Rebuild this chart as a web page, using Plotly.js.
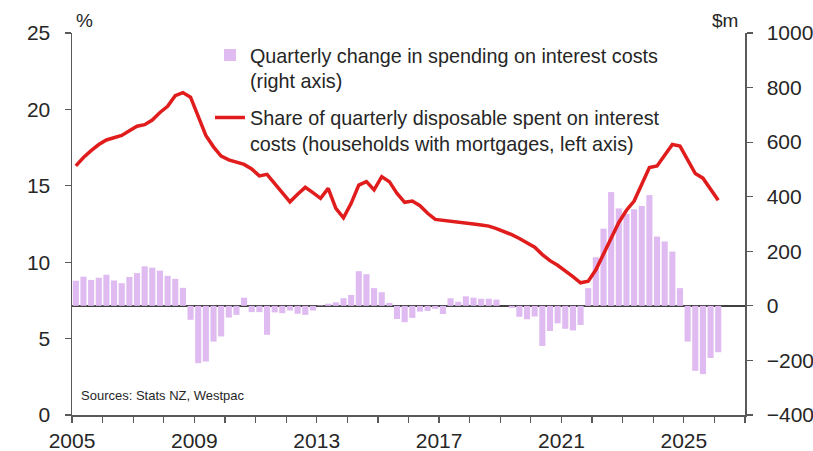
<!DOCTYPE html>
<html>
<head>
<meta charset="utf-8">
<script src="https://cdn.plot.ly/plotly-3.0.1.min.js"></script>
<style>
html,body{margin:0;padding:0;background:#fff;}
#chart{width:813px;height:451px;}
</style>
</head>
<body>
<div id="chart"></div>
<script>
// Quarterly categories: 2005Q1 .. 2026Q1
const firstYear = 2005;
const nQuarters = 85;
const quarterLabels = [];
for (let i = 0; i < nQuarters; i++) {
  quarterLabels.push((firstYear + Math.floor(i / 4)) + 'Q' + (i % 4 + 1));
}

// Quarterly change in spending on interest costs ($m, right axis)
const changeInterest = [
  92, 107, 95, 103, 114, 93, 83, 106,
  120, 145, 140, 129, 110, 99, 66, -51,
  -210, -204, -131, -112, -43, -33, 30, -23,
  -23, -106, -24, -27, -17, -29, -33, -17,
  2, 8, 13, 28, 40, 127, 116, 65,
  50, 11, -48, -60, -44, -21, -19, -11,
  -30, 28, 15, 35, 30, 26, 26, 23,
  0, -8, -40, -49, -39, -147, -92, -64,
  -84, -90, -70, 65, 178, 283, 417, 357,
  337, 354, 366, 406, 254, 236, 199, 65,
  -131, -238, -250, -191, -170
];

// Share of quarterly disposable income spent on interest costs (%, left axis)
const shareInterest = [
  16.3, 16.85, 17.3, 17.7, 18.0, 18.15, 18.3, 18.6,
  18.9, 19.0, 19.3, 19.8, 20.2, 20.9, 21.1, 20.8,
  19.5, 18.3, 17.55, 16.95, 16.7, 16.55, 16.4, 16.1,
  15.65, 15.75, 15.15, 14.5, 13.95, 14.45, 14.9, 14.55,
  14.18, 14.83, 13.53, 12.91, 13.85, 15.05, 15.27, 14.73,
  15.6, 15.27, 14.5, 13.92, 14.0, 13.7, 13.2, 12.8,
  12.73, 12.68, 12.62, 12.57, 12.5, 12.44, 12.36, 12.2,
  12.03, 11.8, 11.55, 11.27, 10.98, 10.5, 10.1, 9.8,
  9.45, 9.05, 8.65, 8.75, 9.5, 10.5, 11.6, 12.6,
  13.4, 14.0, 15.1, 16.2, 16.3, 17.0, 17.7, 17.6,
  16.7, 15.8, 15.5, 14.8, 14.05
];

const xTickLabels = ['2005', '2009', '2013', '2017', '2021', '2025'];
const barName = 'Quarterly change in spending on interest costs<br>(right axis)';
const lineName = 'Share of quarterly disposable spent on interest<br>costs (households with mortgages, left axis)';

// position each quarter at its mid-point on a decimal-year axis
const xPos = quarterLabels.map(q => {
  const y = parseInt(q.slice(0, 4), 10);
  const qq = parseInt(q.slice(5), 10);
  return y + (qq - 1) * 0.25 + 0.125;
});

const FONT = 'Liberation Sans, Arial, sans-serif';
const TXT = '#262626';
const AX = '#595959';

const traces = [
  {
    type: 'bar', x: xPos, y: changeInterest, yaxis: 'y', name: barName,
    marker: {color: '#dfbbf1', line: {width: 0}},
    legendgroup: 'a', hoverinfo: 'x+y'
  },
  {
    type: 'scatter', mode: 'lines', x: xPos, y: shareInterest, yaxis: 'y2', name: lineName,
    line: {color: '#e01c1c', width: 3.5},
    legendgroup: 'b'
  }
];

const layout = {
  width: 813, height: 451,
  margin: {l: 72, r: 68, t: 33, b: 36, pad: 0},
  paper_bgcolor: '#ffffff', plot_bgcolor: '#ffffff',
  font: {family: FONT, color: TXT, size: 21},
  bargap: 0.2,
  showlegend: true,
  legend: {
    x: 0.205, y: 0.993, xanchor: 'left', yanchor: 'top',
    bgcolor: 'rgba(0,0,0,0)', borderwidth: 0,
    font: {family: FONT, size: 19.8, color: TXT},
    traceorder: 'grouped', tracegroupgap: 8, valign: 'top',
    itemclick: false
  },
  xaxis: {
    range: [2005, 2027], tickmode: 'array',
    tickvals: xTickLabels.map(Number), ticktext: xTickLabels,
    ticks: 'outside', ticklen: 6, tickwidth: 1.2, tickcolor: AX,
    minor: {dtick: 1, tick0: 2005, ticks: 'outside', ticklen: 6, tickwidth: 1.2, tickcolor: AX, showgrid: false},
    showline: true, linecolor: AX, linewidth: 1.5,
    showgrid: false, zeroline: false,
    tickfont: {size: 21, color: TXT}
  },
  yaxis: {
    side: 'right', range: [-400, 1000], dtick: 200, tick0: 0,
    ticks: 'outside', ticklen: 6, tickwidth: 1.2, tickcolor: AX,
    showline: true, linecolor: AX, linewidth: 1.5,
    showgrid: false, zeroline: true, zerolinecolor: '#404040', zerolinewidth: 1.5,
    tickfont: {size: 21, color: TXT}, ticklabelstandoff: 10
  },
  yaxis2: {
    side: 'left', overlaying: 'y', range: [0, 25], dtick: 5, tick0: 0,
    ticks: 'outside', ticklen: 6, tickwidth: 1.2, tickcolor: AX,
    showline: true, linecolor: AX, linewidth: 1.5,
    showgrid: false, zeroline: false,
    tickfont: {size: 21, color: TXT}, ticklabelstandoff: 10
  },
  annotations: [
    {text: '%', xref: 'paper', yref: 'paper', x: 0.018, y: 1.034, xanchor: 'center', yanchor: 'middle', showarrow: false, font: {size: 19, color: TXT}},
    {text: '$m', xref: 'paper', yref: 'paper', x: 0.970, y: 1.034, xanchor: 'center', yanchor: 'middle', showarrow: false, font: {size: 19, color: TXT}},
    {text: 'Sources: Stats NZ, Westpac', xref: 'paper', yref: 'paper', x: 0.0104, y: 0.05, xanchor: 'left', yanchor: 'middle', showarrow: false, font: {size: 13, color: TXT}}
  ]
};

Plotly.newPlot('chart', traces, layout, {displayModeBar: false, staticPlot: true});
</script>
</body>
</html>
